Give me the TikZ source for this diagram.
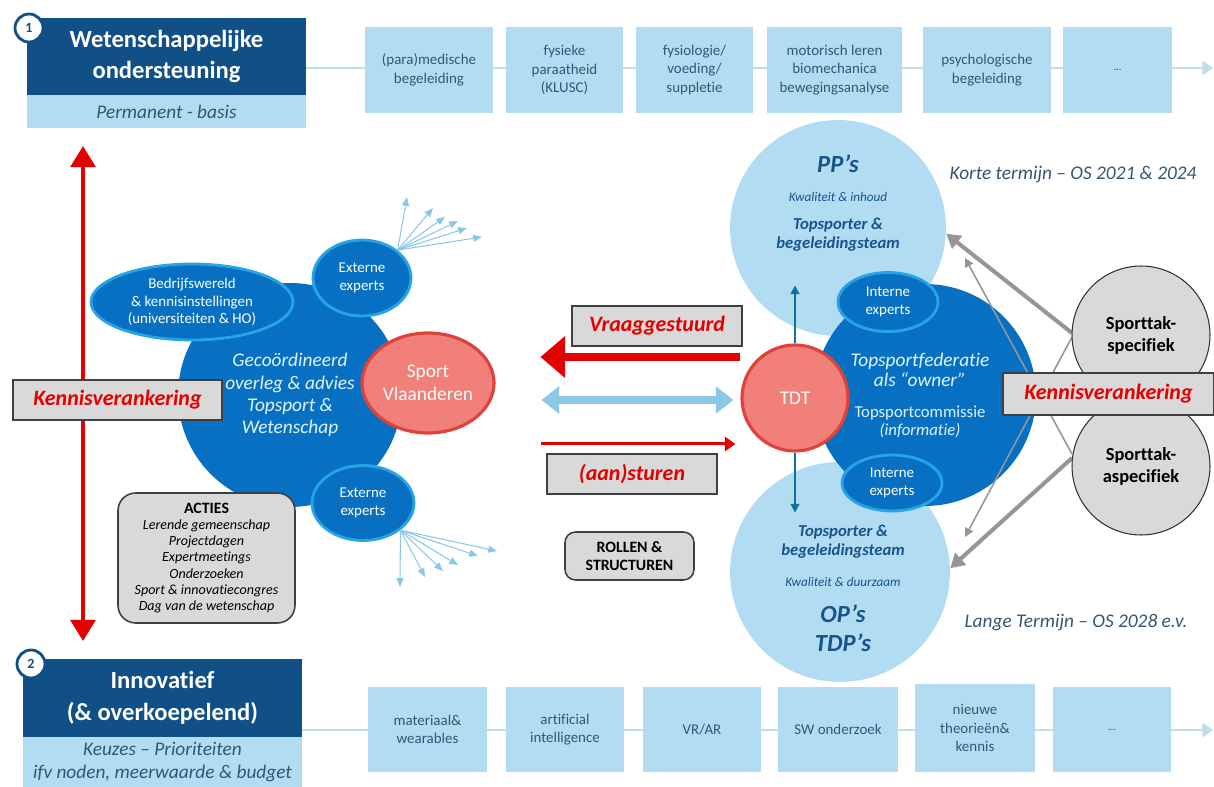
\documentclass[tikz,border=0pt]{standalone}
\usepackage{fontspec}
\setmainfont{Carlito}[Ligatures={TeX,NoCommon}]
\usepackage{xcolor}
\usetikzlibrary{arrows.meta,shapes.geometric,positioning,calc}

\definecolor{navy}{RGB}{17,79,135}
\definecolor{lichtblauw}{RGB}{178,220,242}
\definecolor{lijnblauw}{RGB}{192,221,234}
\definecolor{donkerblauw}{RGB}{8,112,194}
\definecolor{randblauw}{RGB}{38,165,230}
\definecolor{zalm}{RGB}{242,128,122}
\definecolor{zalmrand}{RGB}{222,66,58}
\definecolor{grijs}{RGB}{217,217,217}
\definecolor{felrood}{RGB}{228,0,0}
\definecolor{tekstblauw}{RGB}{52,86,118}
\definecolor{titelblauw}{RGB}{24,84,140}
\definecolor{waaierblauw}{RGB}{140,200,230}
\definecolor{pijlgrijs}{RGB}{150,150,150}

\tikzstyle{kop}=[fill=navy, text=white, align=center, inner sep=0pt, outer sep=0pt, font=\fontsize{14}{18}\selectfont\bfseries]
\tikzstyle{ondertitel}=[fill=lichtblauw, text=tekstblauw, align=center, inner sep=0pt, outer sep=0pt, font=\fontsize{11}{13}\selectfont\itshape]
\tikzstyle{nummer}=[circle, fill=white, draw=navy, line width=1.6pt, minimum size=0.56cm, inner sep=0pt, text=navy, font=\fontsize{8}{9}\selectfont\bfseries]
\tikzstyle{blok}=[fill=lichtblauw, text=tekstblauw, align=center, inner sep=0pt, font=\fontsize{8.5}{10.5}\selectfont]
\tikzstyle{lijn}=[draw=lijnblauw, line width=1.6pt, -{Triangle[width=8pt,length=6pt]}]
\tikzstyle{bol}=[ellipse, fill=donkerblauw, inner sep=0pt, text=white, align=center, font=\fontsize{8.5}{9.8}\selectfont]
\tikzstyle{rand}=[draw=randblauw, line width=1.6pt]
\tikzstyle{zalmbol}=[ellipse, fill=zalm, draw=zalmrand, line width=1.8pt, inner sep=0pt, text=white, align=center, font=\fontsize{11}{13}\selectfont]
\tikzstyle{grijsvak}=[fill=grijs, draw=black!75, line width=0.9pt, align=center, inner sep=0pt]
\tikzstyle{roodtekst}=[text=felrood, font=\fontsize{12.5}{14}\selectfont\bfseries\itshape]
\tikzstyle{lichtbol}=[circle, fill=lichtblauw, inner sep=0pt]
\tikzstyle{sporttak}=[circle, fill=grijs, draw=black!80, line width=0.6pt, inner sep=0pt, align=center, font=\fontsize{10.5}{12.5}\selectfont\bfseries]
\tikzstyle{termijn}=[text=tekstblauw, font=\fontsize{11}{13}\selectfont\itshape]
\tikzstyle{waaier}=[draw=waaierblauw, line width=0.6pt, -{Triangle[width=4pt,length=5pt]}]

\begin{document}
\begin{tikzpicture}[x=0.02cm, y=-0.02cm]
\useasboundingbox (0,0) rectangle (1214,787);

% 1: wetenschappelijke ondersteuning
\node[kop, minimum width=5.58cm, minimum height=1.54cm] (kop1) at (166.5,56.5) {Wetenschappelijke\\ondersteuning};
\node[ondertitel, minimum width=5.58cm, minimum height=0.66cm, below=0pt of kop1] (sub1) {Permanent - basis};
\node[nummer] (nr1) at (29,28) {1};
\coordinate (eind1) at (1213,68);
\draw[lijn] (kop1.east |- eind1) -- (eind1);
\node[blok, minimum width=2.56cm, minimum height=1.72cm] (b1) at (429,70) {(para)medische\\begeleiding};
\node[blok, minimum width=2.34cm, minimum height=1.72cm] (b2) at (564.5,70) {fysieke\\paraatheid\\(KLUSC)};
\node[blok, minimum width=2.34cm, minimum height=1.72cm] (b3) at (694.5,70) {fysiologie/\\voeding/\\suppletie};
\node[blok, minimum width=2.70cm, minimum height=1.72cm] (b4) at (834.5,70) {motorisch leren\\biomechanica\\bewegingsanalyse};
\node[blok, minimum width=2.56cm, minimum height=1.72cm] (b5) at (987,70) {psychologische\\begeleiding};
\node[blok, minimum width=2.18cm, minimum height=1.72cm] (b6) at (1117.5,70) {\fontsize{6}{7}\selectfont...};

% 2: innovatief
\node[kop, minimum width=5.58cm, minimum height=1.56cm] (kop2) at (162.5,698) {Innovatief\\(\& overkoepelend)};
\node[ondertitel, minimum width=5.58cm, minimum height=1.0cm, below=0pt of kop2] (sub2) {Keuzes – Prioriteiten\\ifv noden, meerwaarde \& budget};
\node[nummer] (nr2) at (31,664) {2};
\coordinate (eind2) at (1213,730);
\draw[lijn] (kop2.east |- eind2) -- (eind2);
\node[blok, minimum width=2.38cm, minimum height=1.70cm] (c1) at (427.5,729.5) {materiaal\&\\wearables};
\node[blok, minimum width=2.36cm, minimum height=1.70cm] (c2) at (565,729.5) {artificial\\intelligence};
\node[blok, minimum width=2.36cm, minimum height=1.70cm] (c3) at (702,729.5) {VR/AR};
\node[blok, minimum width=2.40cm, minimum height=1.70cm] (c4) at (838,729.5) {SW onderzoek};
\node[blok, minimum width=2.40cm, minimum height=1.76cm] (c5) at (975,728) {nieuwe\\theorieën\&\\kennis};
\node[blok, minimum width=2.36cm, minimum height=1.70cm] (c6) at (1112,729.5) {\fontsize{6}{7}\selectfont...};

% kennisverankering links
\coordinate (kvboven) at (83,146);
\coordinate (kvonder) at (83,641);
\draw[draw=felrood, line width=2.4pt, {Triangle[width=14pt,length=12pt]}-{Triangle[width=14pt,length=12pt]}] (kvboven) -- (kvonder);

% overleg
\node[circle, fill=donkerblauw, inner sep=0pt, minimum size=4.48cm, align=center, text=white!88!cyan, font=\fontsize{11}{12.6}\selectfont\itshape] (overleg) at (290,395) {Gecoördineerd\\overleg \& advies\\Topsport \&\\Wetenschap};
\node[bol, rand, minimum width=4.04cm, minimum height=1.52cm] (bedrijf) at (192,302) {Bedrijfswereld\\\& kennisinstellingen\\(universiteiten \& HO)};
\node[bol, rand, minimum width=1.96cm, minimum height=1.52cm] (extern1) at (362,278) {Externe\\experts};
\node[bol, rand, minimum width=2.04cm, minimum height=1.50cm] (extern2) at (363,503) {Externe\\experts};
\foreach \x/\y [count=\i] in {407/197,433/208,445/217,458/221,467/228,482/237}
{
  \coordinate (wb\i) at (\x,\y);
  \draw[waaier] (extern1.38) -- (wb\i);
}
\foreach \x/\y [count=\i] in {400/587,425/577,443/571,458/565,478/556,497/551}
{
  \coordinate (wo\i) at (\x,\y);
  \draw[waaier] (extern2.-36) -- (wo\i);
}
\node[zalmbol, minimum width=2.64cm, minimum height=2.0cm] (sport) at (428,383) {Sport\\Vlaanderen};
\node[grijsvak, roodtekst, minimum width=4.18cm, minimum height=0.8cm] (kvlinks) at (117.5,400) {Kennisverankering};
\node[grijsvak, rounded corners=10pt, minimum width=3.54cm, minimum height=2.6cm, font=\fontsize{8}{9.2}\selectfont] (acties) at (206.5,558) {\textbf{\fontsize{9}{10}\selectfont ACTIES}\\\textit{Lerende gemeenschap}\\\textit{Projectdagen}\\\textit{Expertmeetings}\\\textit{Onderzoeken}\\\textit{Sport \& innovatiecongres}\\\textit{Dag van de wetenschap}};

% rechts
\node[lichtbol, minimum size=4.32cm] (pp) at (838,228) {};
\node[lichtbol, minimum size=4.40cm] (op) at (840,572) {};
\node[circle, fill=donkerblauw, inner sep=0pt, minimum size=4.44cm] (federatie) at (925,395) {};
\node[text=titelblauw, font=\fontsize{14}{16}\selectfont\bfseries\itshape] (pptitel) at (838,164) {PP’s};
\node[text=titelblauw, font=\fontsize{7.5}{9}\selectfont\itshape] (ppkwal) at (838,197) {Kwaliteit \& inhoud};
\node[text=titelblauw, align=center, font=\fontsize{9.5}{10.8}\selectfont\bfseries\itshape] (ppteam) at (838,235) {Topsporter \&\\begeleidingsteam};
\node[text=titelblauw, align=center, font=\fontsize{9.5}{10.8}\selectfont\bfseries\itshape] (opteam) at (843,542) {Topsporter \&\\begeleidingsteam};
\node[text=titelblauw, font=\fontsize{7.5}{9}\selectfont\itshape] (opkwal) at (843,582) {Kwaliteit \& duurzaam};
\node[text=titelblauw, align=center, font=\fontsize{14}{16.5}\selectfont\bfseries\itshape] (optitel) at (843,628) {OP’s\\TDP’s};
\node[text=white!88!cyan, align=center, font=\fontsize{11}{11.5}\selectfont\itshape] (fedtekst) at (920,370) {Topsportfederatie\\als “owner”};
\node[text=white!88!cyan, align=center, font=\fontsize{9.5}{10.5}\selectfont] (commissie) at (920,422) {Topsportcommissie\\\textit{(informatie)}};
\node[bol, rand, minimum width=2.0cm, minimum height=1.18cm] (intern1) at (888,302) {Interne\\experts};
\node[bol, rand, minimum width=2.0cm, minimum height=1.12cm] (intern2) at (892,483) {Interne\\experts};
\node[circle, fill=zalm, draw=zalmrand, line width=1.8pt, inner sep=0pt, minimum size=2.12cm, text=white, font=\fontsize{11}{13}\selectfont] (tdt) at (795,398) {TDT};
\draw[draw=navy!80!cyan, line width=1.1pt, -{Triangle[width=5pt,length=5pt]}] (tdt.north) -- ++(0,-58);
\draw[draw=navy!80!cyan, line width=1.1pt, -{Triangle[width=5pt,length=5pt]}] (tdt.south) -- ++(0,60);

% pijlen midden
\node[grijsvak, roodtekst, minimum width=3.4cm, minimum height=0.8cm] (vraag) at (657,326) {Vraaggestuurd};
\draw[draw=felrood, line width=4.5pt, -{Triangle[width=23pt,length=14pt]}] ([yshift=0.82cm]tdt.west) -- ([yshift=0.82cm, xshift=-4cm]tdt.west);
\draw[draw=waaierblauw, line width=4pt, {Triangle[width=15pt,length=10pt]}-{Triangle[width=15pt,length=10pt]}] ([xshift=-3.98cm, yshift=-0.04cm]tdt.west) -- ([xshift=-0.14cm, yshift=-0.04cm]tdt.west);
\draw[draw=felrood, line width=1.7pt, -{Triangle[width=8pt,length=6pt]}] ([xshift=-3.98cm, yshift=-0.92cm]tdt.west) -- ([xshift=-0.1cm, yshift=-0.92cm]tdt.west);
\node[grijsvak, roodtekst, minimum width=3.4cm, minimum height=0.8cm] (sturen) at (632,474) {(aan)sturen};
\node[grijsvak, rounded corners=6pt, minimum width=2.58cm, minimum height=0.96cm, font=\fontsize{9}{10.5}\selectfont\bfseries] (rollen) at (629.5,556) {ROLLEN \&\\STRUCTUREN};

% sporttak
\coordinate (dun1) at (965,258);
\coordinate (dun2) at (965,537);
\draw[draw=pijlgrijs, line width=2.3pt, -{Triangle[width=9pt,length=8pt]}] (1072,333) -- (pp.-3);
\draw[draw=pijlgrijs, line width=2.3pt, -{Triangle[width=9pt,length=8pt]}] (1072,458) -- (op.2);
\draw[draw=pijlgrijs, line width=0.9pt, -{Triangle[width=5pt,length=5pt]}] (1072,454) -- (dun1);
\draw[draw=pijlgrijs, line width=0.9pt, -{Triangle[width=5pt,length=5pt]}] (1072,337) -- (dun2);
\node[sporttak, minimum size=2.76cm] (spec) at (1141,335) {Sporttak-\\specifiek};
\node[sporttak, minimum size=2.76cm] (aspec) at (1141,466) {Sporttak-\\aspecifiek};
\node[grijsvak, roodtekst, minimum width=4.22cm, minimum height=0.84cm] (kvrechts) at (1108.5,394) {Kennisverankering};

\node[termijn] (kort) at (1073,175) {Korte termijn – OS 2021 \& 2024};
\node[termijn] (lang) at (1076,623) {Lange Termijn – OS 2028 e.v.};

\end{tikzpicture}
\end{document}
